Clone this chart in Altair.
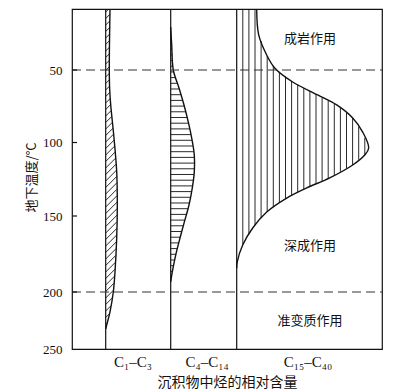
import altair as alt
import numpy as np
import pandas as pd

# ---- data ----
Y_DOMAIN = [10, 50, 100, 150, 200, 250]          # °C (scan is not quite linear)
Y_RANGE = [0, 61, 133.5, 207, 283, 340]          # matching pixel rows of plot area
Y_TICKS = [50, 100, 150, 200, 250]
STAGE_LINES = [50, 200]

c1_temp = [10, 50, 63.8, 74, 96.9, 120, 142.5, 164.5, 186.8, 200, 217.5, 229, 232.5]
c1_amt = [4.3, 3.6, 4, 5, 8.3, 11, 11.6, 11, 9.3, 7.6, 4.3, 1, 0]

c2_temp = [21.8, 33.6, 50, 62.4, 74.1, 85.9, 96.9, 108.5, 120, 130.9, 142.5, 154,
           164.5, 175.7, 186.8, 193.4]
c2_amt = [0, 1, 2.6, 8.3, 13.3, 17.6, 21, 23.6, 23.6, 21.6, 18.3, 13.6, 9.3, 5, 1.6, 0]

c3_temp = [10, 27, 40.2, 48.7, 58.3, 67.2, 74.1, 83.1, 92.8, 103.7, 108.5, 115.3,
           124.1, 130.9, 137.8, 147.3, 157.9, 169.1, 180.3, 184.3]
c3_amt = [20, 22, 30, 38, 56, 81, 100, 116, 126, 132, 128, 116, 93, 70, 50, 30, 16,
          6, 0.5, 0]

fractions = ["C₁–C₃", "C₄–C₁₄", "C₁₅–C₄₀"]
stages = ["成岩作用", "深成作用", "准变质作用"]
stage_temp = [29.7, 169.7, 225.4]

# ---- layout ----
W, H = 310, 340
X_MAX = 310
BASE = [33.7, 98.7, 164.7]        # column baselines (x units)
LABEL_X = [61, 135, 236]
STAGE_X = 238
INK = "#111111"
SERIF = "Liberation Serif"
CJK = "Noto Sans CJK SC"

series = [(c1_temp, c1_amt), (c2_temp, c2_amt), (c3_temp, c3_amt)]


def to_px(t):
    return np.interp(t, Y_DOMAIN, Y_RANGE)


def to_temp(p):
    return np.interp(p, Y_RANGE, Y_DOMAIN)


def width_fn(temps, amts):
    ps = to_px(np.array(temps, dtype=float))
    a = np.array(amts, dtype=float)
    left = a[0] if temps[0] <= Y_DOMAIN[0] else 0.0
    return lambda p: np.interp(p, ps, a, left=left, right=0.0)


# curves
rows = []
for k, (ts, am) in enumerate(series):
    for i, (t, a) in enumerate(zip(ts, am)):
        rows.append({"s": fractions[k], "i": i, "t": t, "x": BASE[k] + a})
curves = pd.DataFrame(rows)

# hatching
segs = []
w1 = width_fn(c1_temp, c1_amt)
xs = np.arange(0, 25, 0.05)
for c in np.arange(3, 345, 6.5):
    ok = (c - xs >= 0) & (xs <= w1(c - xs))
    idx = len(xs) if ok.all() else int(np.argmin(ok))
    xe = xs[idx - 1] if idx > 0 else 0
    if xe < 0.8:
        continue
    segs.append({"x": BASE[0], "x2": BASE[0] + xe, "y": to_temp(c), "y2": to_temp(c - xe)})

w2 = width_fn(c2_temp, c2_amt)
for p in np.arange(to_px(c2_temp[0]) + 5, to_px(c2_temp[-1]), 5.7):
    wv = float(w2(p))
    if wv >= 1:
        segs.append({"x": BASE[1], "x2": BASE[1] + wv, "y": to_temp(p), "y2": to_temp(p)})

w3 = width_fn(c3_temp, c3_amt)
ps = np.arange(0, H + 0.01, 0.25)
wv3 = w3(ps)
for d in np.arange(6.1, max(c3_amt), 6.1):
    m = wv3 >= d
    if m.any():
        segs.append({"x": BASE[2] + d, "x2": BASE[2] + d,
                     "y": to_temp(ps[m].min()), "y2": to_temp(ps[m].max())})
hatch = pd.DataFrame(segs)

xscale = alt.Scale(domain=[0, X_MAX], nice=False, zero=False)
yscale = alt.Scale(domain=Y_DOMAIN, range=Y_RANGE, nice=False, zero=False)
xaxis = alt.Axis(title="沉积物中烃的相对含量", labels=False, ticks=False, domain=False,
                 grid=False, titleFont=CJK, titleFontSize=14, titleFontWeight="normal",
                 titleColor=INK, titleY=33, titleBaseline="middle")
yaxis = alt.Axis(title="地下温度/°C", values=Y_TICKS, tickSize=0, domain=False, grid=False,
                 labelFont=SERIF, labelFontSize=13, labelColor=INK, labelPadding=10,
                 titleFont=CJK, titleFontSize=13, titleFontWeight="normal", titleColor=INK,
                 titleX=-41, titleY=168, titleAngle=270, titleAlign="center",
                 titleBaseline="middle")


def X(f):
    return alt.X(f, type="quantitative", scale=xscale, axis=xaxis)


def Y(f):
    return alt.Y(f, type="quantitative", scale=yscale, axis=yaxis)


hatch_layer = alt.Chart(hatch).mark_rule(color=INK, strokeWidth=0.9).encode(
    x=X("x"), x2="x2", y=Y("y"), y2="y2")

base_df = pd.DataFrame({"x": BASE, "y": [Y_DOMAIN[0]] * 3, "y2": [Y_DOMAIN[-1]] * 3})
base_layer = alt.Chart(base_df).mark_rule(color=INK, strokeWidth=1.2).encode(
    x=X("x"), y=Y("y"), y2="y2")

curve_layer = alt.Chart(curves).mark_line(color=INK, strokeWidth=1.4,
                                          interpolate="catmull-rom").encode(
    x=X("x"), y=Y("t"), detail="s:N", order="i:Q")

dash_df = pd.DataFrame({"y": STAGE_LINES})
dash_layer = alt.Chart(dash_df).mark_rule(color="#333333", strokeWidth=1.1,
                                          strokeDash=[9, 5]).encode(
    x=alt.value(0), x2=alt.value(W), y=Y("y"))

tick_df = pd.DataFrame({"y": Y_TICKS[:-1]})
tick_layer = alt.Chart(tick_df).mark_rule(color=INK, strokeWidth=1.2).encode(
    x=alt.value(0), x2=alt.value(5), y=Y("y"))

lab_df = pd.DataFrame({"label": fractions, "x": LABEL_X, "y": [Y_DOMAIN[-1]] * 3})
lab_layer = alt.Chart(lab_df).mark_text(font=SERIF, fontSize=15, color=INK, dy=13,
                                        baseline="middle").encode(
    x=X("x"), y=Y("y"), text="label:N")

stage_df = pd.DataFrame({"label": stages, "y": stage_temp, "x": [STAGE_X] * 3})
stage_layer = alt.Chart(stage_df).mark_text(font=CJK, fontSize=13, color=INK,
                                            baseline="middle").encode(
    x=X("x"), y=Y("y"), text="label:N")

chart = alt.layer(hatch_layer, base_layer, curve_layer, dash_layer, tick_layer,
                  lab_layer, stage_layer).properties(
    width=W, height=H,
    autosize=alt.AutoSizeParams(type="none"),
    padding={"left": 72, "top": 9, "right": 21, "bottom": 43},
    background="white",
).configure_view(stroke=INK, strokeWidth=1.2)

chart.save("out.html", embed_options={"renderer": "svg", "actions": False})
